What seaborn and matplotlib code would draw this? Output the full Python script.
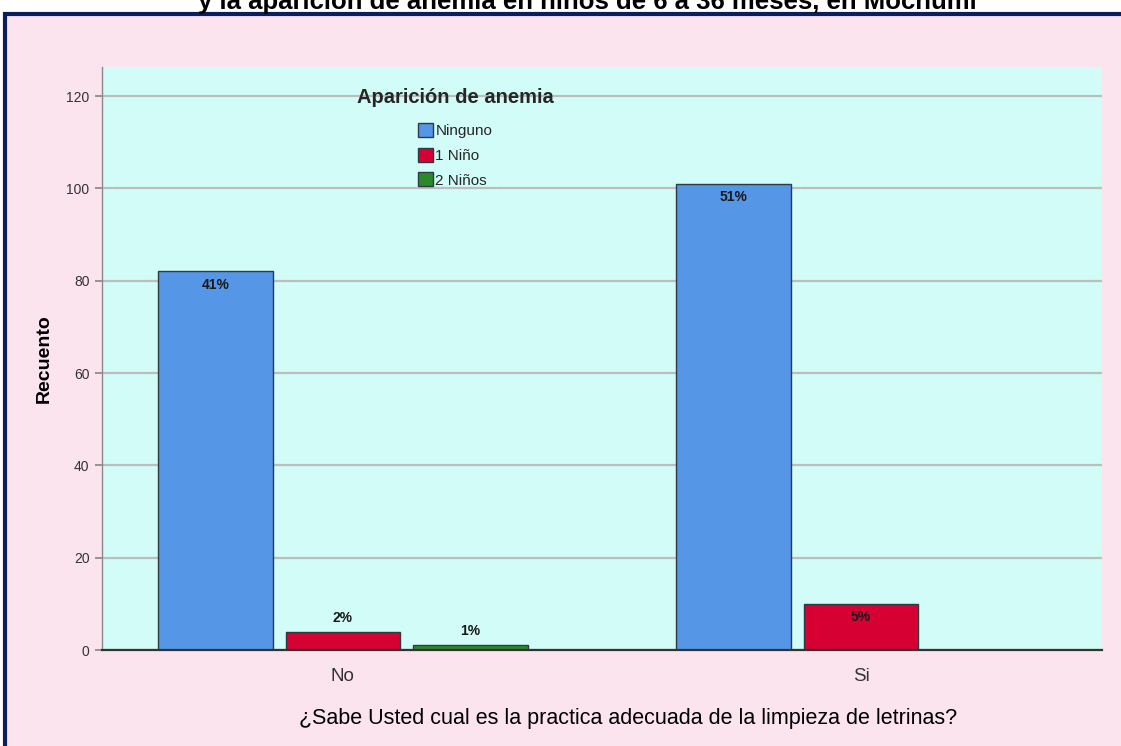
import numpy as np
import pandas as pd
import matplotlib
matplotlib.use("Agg")
import matplotlib.pyplot as plt
import seaborn as sns
from matplotlib.patches import Rectangle, Patch

# ---------------- datos ----------------
categorias = ["No", "Si"]
niveles = ["Ninguno", "1 Niño", "2 Niños"]
recuento_no = [82, 4, 1]
recuento_si = [101, 10, 0]
pct_no = ["41%", "2%", "1%"]
pct_si = ["51%", "5%", ""]
colores = ["#5596E6", "#D70032", "#2A8A2A"]

titulo = "y la aparición de anemia en niños de 6 a 36 meses, en Mochumí"
xlab = "¿Sabe Usted cual es la practica adecuada de la limpieza de letrinas?"
ylab = "Recuento"
leyenda_titulo = "Aparición de anemia"

filas = []
for cat, vals, pcts in [("No", recuento_no, pct_no), ("Si", recuento_si, pct_si)]:
    for niv, v, p in zip(niveles, vals, pcts):
        if v > 0:
            filas.append({"cat": cat, "nivel": niv, "n": v, "pct": p})
df = pd.DataFrame(filas)

sns.set_theme(style="white")
plt.rcParams["font.family"] = ["Liberation Sans", "DejaVu Sans"]

fig = plt.figure(figsize=(11.21, 7.46), dpi=100, facecolor="white")
# fondo rosa con borde azul oscuro
fig.add_artist(Rectangle((5 / 1121, -0.05), 1.2, 1 - 14 / 746 + 0.05,
                         transform=fig.transFigure, facecolor="#FCE4EF",
                         edgecolor="#0B1F5C", linewidth=3, zorder=-10))

ax = fig.add_axes([102 / 1121, 1 - 650 / 746, 1000 / 1121, 583 / 746])
ax.set_facecolor("#D2FCF7")

sns.barplot(data=df, x="cat", y="n", hue="nivel", order=categorias,
            hue_order=niveles, palette=colores, saturation=1, width=0.738,
            gap=0.1, edgecolor="#2E3A44", linewidth=1.0, errorbar=None, ax=ax,
            legend=False, zorder=3)

ax.set_xlim(-0.465, 1.465)
ax.set_ylim(0, 126.3)
ax.set_yticks(np.arange(0, 121, 20))
ax.yaxis.grid(True, color="#BDBDBD", linewidth=1.6, zorder=0)
ax.set_axisbelow(True)
for s in ["top", "right"]:
    ax.spines[s].set_visible(False)
ax.spines["left"].set_color("#8A8A8A")
ax.spines["left"].set_linewidth(1.0)
ax.spines["bottom"].set_color("#333333")
ax.spines["bottom"].set_linewidth(1.6)
ax.spines["bottom"].set_zorder(5)

ax.tick_params(axis="y", length=5, color="#8A8A8A", labelsize=10, pad=4,
               left=True, labelcolor="#333333")
ax.tick_params(axis="x", length=0, labelsize=13.5, pad=13, colors="#333333")
ax.set_xlabel(xlab, fontsize=15.5, color="black")
ax.xaxis.set_label_coords(0.526, -58 / 583)
ax.set_ylabel(ylab, fontsize=14, fontweight="bold", labelpad=10, color="black")

# etiquetas de porcentaje
for cont, niv in zip(ax.containers, niveles):
    for bar in cont:
        h = bar.get_height()
        if not np.isfinite(h) or h <= 0:
            continue
        xc = bar.get_x() + bar.get_width() / 2
        cat = categorias[int(round(xc))]
        txt = df[(df["cat"] == cat) & (df["nivel"] == niv)]["pct"].iloc[0]
        off = -9.5 if h >= 8 else 10
        ax.annotate(txt, (xc, h), xytext=(0, off), textcoords="offset points",
                    ha="center", va="center", fontsize=10, fontweight="bold",
                    color="#1A1A1A", zorder=6)

handles = [Patch(facecolor=c, edgecolor="#2E3A44", linewidth=1.0) for c in colores]
leg = ax.legend(handles, niveles, title=leyenda_titulo, loc="upper center",
                bbox_to_anchor=(0.353, 0.975), frameon=False, fontsize=11,
                handlelength=1.0, handleheight=1.0, handletextpad=0.15,
                labelspacing=0.62, borderaxespad=0,
                title_fontproperties={"weight": "bold", "size": 14.5})
leg._legend_box.sep = 12

# el título aparece recortado por el borde superior, como en el original
fig.text(0.524, 1 - 2 / 746, titulo, ha="center", va="center",
         fontsize=18.5, fontweight="bold", color="black")

fig.savefig("out.png", dpi=100, facecolor=fig.get_facecolor())
